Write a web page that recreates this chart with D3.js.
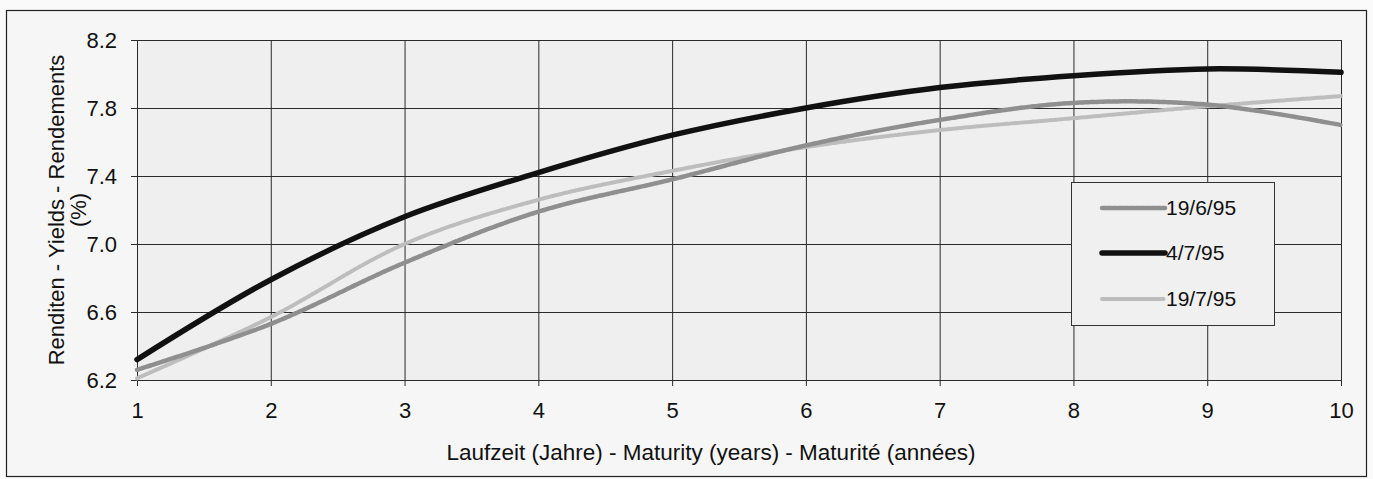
<!DOCTYPE html>
<html><head><meta charset="utf-8">
<script src="https://cdn.jsdelivr.net/npm/d3@7"></script>
<style>
html,body{margin:0;padding:0;background:#fafafa;}
text{font-family:"Liberation Sans",Arial,sans-serif;fill:#111;}
</style></head>
<body>
<svg id="c" width="1373" height="479"></svg>
<script>
const maturities = [1,2,3,4,5,6,7,8,9,10];
const seriesNames = ["19/6/95","4/7/95","19/7/95"];
const yields_19_6_95 = [6.26,6.53,6.89,7.19,7.38,7.58,7.73,7.83,7.82,7.70];
const yields_4_7_95  = [6.32,6.79,7.16,7.42,7.64,7.80,7.92,7.99,8.03,8.01];
const yields_19_7_95 = [6.21,6.57,7.00,7.26,7.43,7.57,7.67,7.74,7.81,7.87];
const yTicks = [6.2,6.6,7.0,7.4,7.8,8.2];
const xTitle = "Laufzeit (Jahre) - Maturity (years) - Maturité (années)";
const yTitle = ["Renditen - Yields - Rendements","(%)"];

const svg = d3.select("#c");
const L=137,R=1341,T=40,B=380;
const x = d3.scaleLinear().domain([1,10]).range([L,R]);
const y = d3.scaleLinear().domain([6.2,8.2]).range([B,T]);

// outer frame
svg.append("rect").attr("x",6.5).attr("y",10.5).attr("width",1360).attr("height",466)
  .attr("fill","#f6f6f6").attr("stroke","#222").attr("stroke-width",1.2);
// plot bg
svg.append("rect").attr("x",L).attr("y",T).attr("width",R-L).attr("height",B-T).attr("fill","#efefef");

// grid
const g = svg.append("g");
g.selectAll("line.h").data(yTicks).join("line")
  .attr("x1",L-6).attr("x2",R).attr("y1",d=>y(d)+0.5).attr("y2",d=>y(d)+0.5)
  .attr("stroke","#2a2a2a").attr("stroke-width",1);
g.selectAll("line.v").data(maturities).join("line")
  .attr("x1",d=>x(d)+0.5).attr("x2",d=>x(d)+0.5).attr("y1",T).attr("y2",B+6)
  .attr("stroke","#2a2a2a").attr("stroke-width",1);

// axes labels
const yAxis = d3.axisLeft(y).tickValues(yTicks).tickFormat(d3.format(".1f")).tickSize(0).tickPadding(20);
const ya = svg.append("g").attr("transform",`translate(${L},0)`).call(yAxis);
ya.select(".domain").remove();
ya.selectAll("text").style("font-size","22px").style("font-family","Liberation Sans, Arial, sans-serif").attr("fill","#111");
const xAxis = d3.axisBottom(x).tickValues(maturities).tickFormat(d3.format("d")).tickSize(0).tickPadding(22);
const xa = svg.append("g").attr("transform",`translate(0,${B})`).call(xAxis);
xa.select(".domain").remove();
xa.selectAll("text").style("font-size","22px").style("font-family","Liberation Sans, Arial, sans-serif").attr("fill","#111");

svg.append("text").attr("x",711).attr("y",460).attr("text-anchor","middle")
  .style("font-size","22.5px").text(xTitle);
const yt = svg.append("text").attr("transform","translate(64,210) rotate(-90)").attr("text-anchor","middle").style("font-size","22px");
yt.append("tspan").attr("x",0).attr("dy",0).text(yTitle[0]);
yt.append("tspan").attr("x",0).attr("dy",22).text(yTitle[1]);

// lines
const styles = {
  "19/6/95":{stroke:"#8f8f8f",w:4.5,dash:"4,1.5"},
  "4/7/95":{stroke:"#111",w:5.5,dash:null},
  "19/7/95":{stroke:"#bdbdbd",w:4,dash:"3,1.5"}
};
const dataMap = {"19/6/95":yields_19_6_95,"4/7/95":yields_4_7_95,"19/7/95":yields_19_7_95};
const line = d3.line().x((d,i)=>x(maturities[i])).y(d=>y(d)).curve(d3.curveCatmullRom.alpha(0.5));
["19/7/95","19/6/95","4/7/95"].forEach(n=>{
  const s=styles[n];
  svg.append("path").datum(dataMap[n]).attr("d",line).attr("fill","none")
    .attr("stroke",s.stroke).attr("stroke-width",s.w).attr("stroke-linecap","round")
    .attr("stroke-dasharray",s.dash);
});

// legend
const lg = svg.append("g");
lg.append("rect").attr("x",1071.5).attr("y",182.5).attr("width",203).attr("height",143)
  .attr("fill","#f0f0f0").attr("stroke","#333").attr("stroke-width",1);
const ly = [207,252,298];
seriesNames.forEach((n,i)=>{
  const s=styles[n];
  lg.append("line").attr("x1",1102).attr("x2",1165).attr("y1",ly[i]+1).attr("y2",ly[i]+1)
    .attr("stroke",s.stroke).attr("stroke-width",s.w).attr("stroke-linecap","round").attr("stroke-dasharray",s.dash);
  lg.append("text").attr("x",1166).attr("y",ly[i]+8).style("font-size","21px").text(n);
});
</script>
</body></html>
